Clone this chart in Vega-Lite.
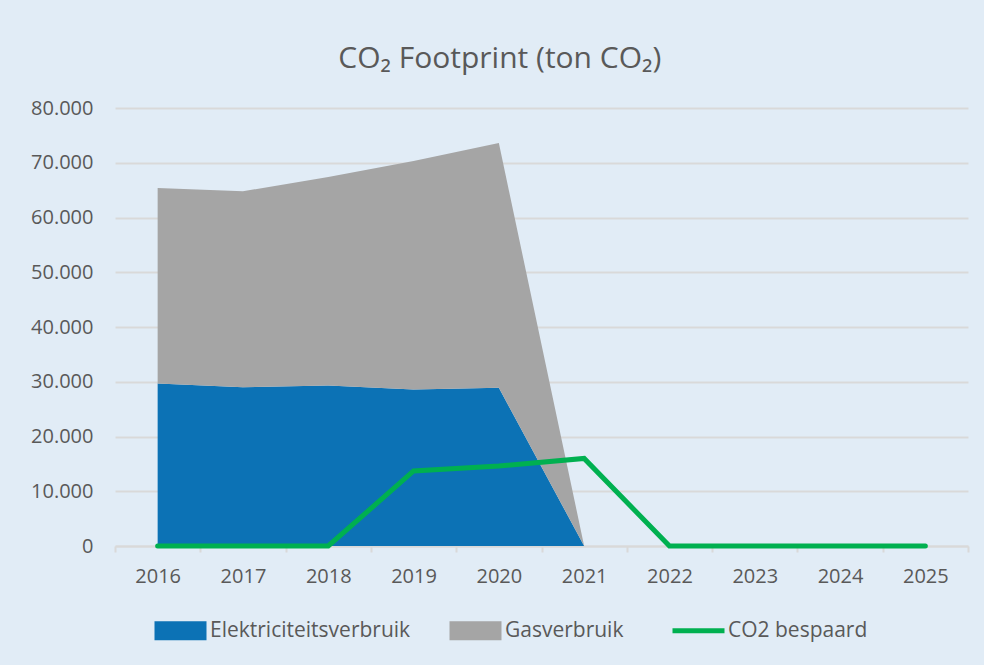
{
  "$schema": "https://vega.github.io/schema/vega-lite/v6.json",
  "width": 853,
  "height": 438,
  "autosize": {"type": "none"},
  "padding": {"left": 115, "top": 108, "right": 16, "bottom": 119},
  "background": "#e1ecf6",
  "title": {
    "text": "CO₂ Footprint (ton CO₂)",
    "font": "Open Sans",
    "fontSize": 30,
    "fontWeight": "normal",
    "color": "#595959",
    "anchor": "middle",
    "frame": "bounds",
    "offset": 24
  },
  "config": {
    "locale": {"number": {"decimal": ",", "thousands": ".", "grouping": [3], "currency": ["€", ""]}},
    "view": {"stroke": null},
    "axis": {"labelFont": "Open Sans", "labelFontSize": 20, "labelColor": "#595959", "title": null},
    "legend": {"labelFont": "Open Sans", "labelFontSize": 21, "labelColor": "#595959"}
  },
  "data": {
    "values": [
      {"year": "2016", "series": "Elektriciteitsverbruik", "value": 29700},
      {"year": "2017", "series": "Elektriciteitsverbruik", "value": 29000},
      {"year": "2018", "series": "Elektriciteitsverbruik", "value": 29300},
      {"year": "2019", "series": "Elektriciteitsverbruik", "value": 28600},
      {"year": "2020", "series": "Elektriciteitsverbruik", "value": 28900},
      {"year": "2021", "series": "Elektriciteitsverbruik", "value": 0},
      {"year": "2016", "series": "Gasverbruik", "value": 35700},
      {"year": "2017", "series": "Gasverbruik", "value": 35800},
      {"year": "2018", "series": "Gasverbruik", "value": 38100},
      {"year": "2019", "series": "Gasverbruik", "value": 41700},
      {"year": "2020", "series": "Gasverbruik", "value": 44700},
      {"year": "2021", "series": "Gasverbruik", "value": 0},
      {"year": "2016", "series": "CO2 bespaard", "value": 0},
      {"year": "2017", "series": "CO2 bespaard", "value": 0},
      {"year": "2018", "series": "CO2 bespaard", "value": 0},
      {"year": "2019", "series": "CO2 bespaard", "value": 13700},
      {"year": "2020", "series": "CO2 bespaard", "value": 14600},
      {"year": "2021", "series": "CO2 bespaard", "value": 16000},
      {"year": "2022", "series": "CO2 bespaard", "value": 0},
      {"year": "2023", "series": "CO2 bespaard", "value": 0},
      {"year": "2024", "series": "CO2 bespaard", "value": 0},
      {"year": "2025", "series": "CO2 bespaard", "value": 0}
    ]
  },
  "encoding": {
    "x": {
      "field": "year",
      "type": "ordinal",
      "bandPosition": 0.5,
      "scale": {"type": "band", "paddingInner": 0, "paddingOuter": 0, "domain": ["2016","2017","2018","2019","2020","2021","2022","2023","2024","2025"]},
      "axis": {"labelAngle": 0, "tickBand": "extent", "domainColor": "#d9d9d9", "domainWidth": 2, "tickColor": "#d9d9d9", "tickWidth": 2, "tickSize": 6, "labelPadding": 14, "grid": false}
    },
    "y": {
      "field": "value",
      "type": "quantitative",
      "scale": {"domain": [0, 80000], "nice": false},
      "axis": {"values": [0,10000,20000,30000,40000,50000,60000,70000,80000], "format": ",.0f", "domain": false, "ticks": false, "labelPadding": 22, "gridColor": "#d9d9d9", "gridWidth": 2}
    },
    "color": {
      "field": "series",
      "type": "nominal",
      "scale": {"domain": ["Elektriciteitsverbruik", "Gasverbruik", "CO2 bespaard"], "range": ["#0c72b5", "#a5a5a5", "#00b050"]},
      "legend": {
        "title": null,
        "orient": "none",
        "legendX": 55,
        "legendY": 512,
        "direction": "horizontal",
        "symbolSize": 2704,
        "columnPadding": 38,
        "labelOffset": 19,
        "labelLimit": 400,
        "encode": {
          "symbols": {
            "update": {
              "shape": {"signal": "datum.value === 'CO2 bespaard' ? 'stroke' : 'M-1,-0.365H1V0.365H-1Z'"},
              "strokeWidth": {"signal": "datum.value === 'CO2 bespaard' ? 5 : 0"},
              "fill": {"scale": "color", "field": "value"},
              "stroke": {"scale": "color", "field": "value"},
              "opacity": {"value": 1},
              "fillOpacity": {"value": 1},
              "strokeOpacity": {"value": 1}
            }
          }
        }
      }
    }
  },
  "layer": [
    {
      "transform": [{"filter": "datum.series !== 'CO2 bespaard'"}],
      "mark": {"type": "area", "opacity": 1},
      "encoding": {
        "y": {"field": "value", "type": "quantitative", "stack": "zero"},
        "order": {"field": "series", "sort": "ascending"}
      }
    },
    {
      "transform": [{"filter": "datum.series === 'CO2 bespaard'"}],
      "mark": {"type": "line", "strokeWidth": 5, "strokeCap": "round"},
      "encoding": {}
    }
  ]
}
